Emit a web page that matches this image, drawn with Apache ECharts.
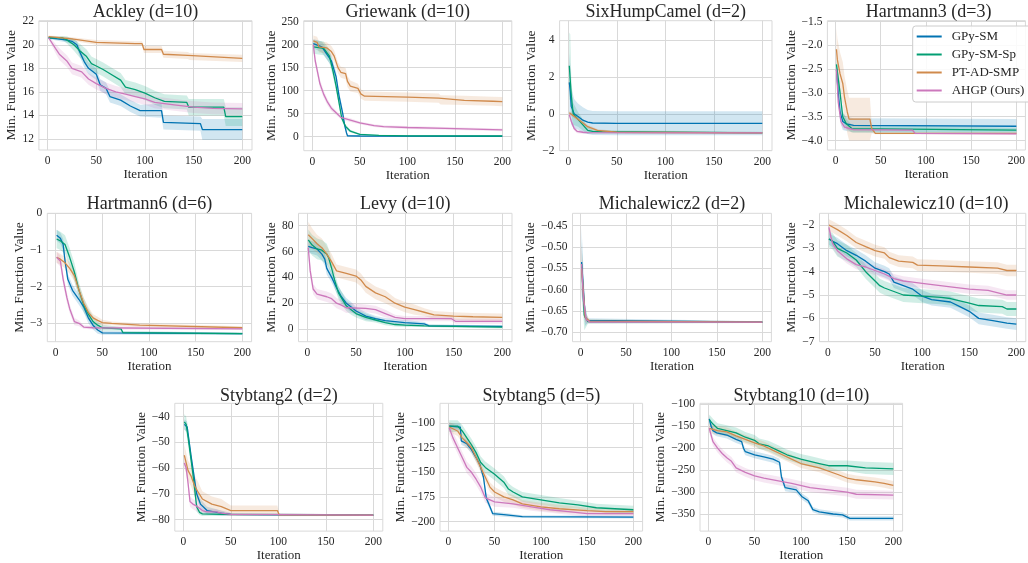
<!DOCTYPE html>
<html>
<head>
<meta charset="utf-8">
<script src="https://cdn.jsdelivr.net/npm/echarts@6/dist/echarts.min.js"></script>
<style>
  html, body { margin: 0; padding: 0; background: #ffffff; }
  #chart { width: 1028px; height: 563px; }
</style>
</head>
<body>
<div id="chart"></div>
<script>
// ---- Benchmark results: mean best value per iteration, each point is [iteration, mean, half-width of shaded band] ----
const methods = ['GPy-SM', 'GPy-SM-Sp', 'PT-AD-SMP', 'AHGP (Ours)'];
const iterTicks = [0, 50, 100, 150, 200];

const panelTitles = [
  'Ackley (d=10)', 'Griewank (d=10)', 'SixHumpCamel (d=2)', 'Hartmann3 (d=3)',
  'Hartmann6 (d=6)', 'Levy (d=10)', 'Michalewicz2 (d=2)', 'Michalewicz10 (d=10)',
  'Stybtang2 (d=2)', 'Stybtang5 (d=5)', 'Stybtang10 (d=10)'
];

const yTickValues = [
  [12, 14, 16, 18, 20, 22],
  [0, 50, 100, 150, 200, 250],
  [-2, 0, 2, 4],
  [-4.0, -3.5, -3.0, -2.5, -2.0, -1.5],
  [-3, -2, -1, 0],
  [0, 20, 40, 60, 80],
  [-0.70, -0.65, -0.60, -0.55, -0.50, -0.45],
  [-7, -6, -5, -4, -3, -2],
  [-80, -70, -60, -50, -40],
  [-200, -175, -150, -125, -100],
  [-350, -300, -250, -200, -150, -100]
];
const yLimits = [
  [11.06, 22.05], [-30.4, 252], [-2, 5.04], [-4.2, -1.48],
  [-3.5, 0], [-9.8, 89.6], [-0.722, -0.421], [-7, -1.5],
  [-84.5, -34.8], [-209.7, -79.9], [-389, -97.7]
];
const yDecimals = [0, 0, 0, 1, 0, 0, 2, 0, 0, 0, 0];

// Ackley
const ackleySM = [[1,20.6,.1],[10,20.5,.15],[20,20.4,.2],[25,20.3,.25],[30,20.0,.3],[33,19.4,.4],[38,18.5,.5],[42,18.0,.5],[50,17.5,.5],[54,16.6,.5],[60,16.3,.5],[64,15.6,.5],[75,15.3,.5],[85,14.8,.5],[95,14.4,.5],[117,14.4,.6],[119,13.4,.6],[157,13.3,.6],[159,12.8,.9],[200,12.8,.9]];
const ackleySp = [[1,20.6,.1],[15,20.6,.15],[20,20.4,.3],[27,20.0,.5],[33,19.5,.6],[40,19.0,.6],[45,18.4,.6],[50,18.2,.6],[57,17.9,.6],[65,17.5,.6],[75,17.0,.6],[80,16.4,.6],[90,16.2,.6],[100,15.9,.6],[110,15.5,.6],[120,15.2,.6],[143,15.1,.6],[145,14.7,.7],[181,14.7,.7],[183,13.9,.8],[200,13.9,.8]];
const ackleyPT = [[1,20.7,.1],[25,20.5,.15],[50,20.2,.2],[90,20.1,.2],[97,20.1,.2],[99,19.6,.3],[117,19.6,.3],[119,19.2,.3],[144,19.1,.3],[146,19.0,.3],[200,18.85,.3]];
const ackleyAHGP = [[1,20.6,.15],[8,19.7,.4],[12,19.2,.5],[20,18.6,.5],[25,18.0,.5],[35,17.7,.5],[42,17.1,.5],[50,16.7,.5],[60,16.3,.5],[70,16.0,.5],[80,15.8,.5],[90,15.6,.5],[100,15.4,.5],[110,15.1,.5],[130,14.9,.5],[150,14.7,.5],[170,14.6,.5],[200,14.55,.5]];

// Griewank
const griewankSM = [[1,202,10],[10,195,12],[15,180,12],[20,165,12],[25,130,12],[28,90,10],[32,50,8],[34,25,6],[36,8,3],[37,2,2],[50,1.5,1],[200,1,.5]];
const griewankSp = [[1,195,15],[12,192,15],[18,175,15],[22,140,12],[25,110,10],[28,75,8],[31,40,6],[35,22,5],[40,12,3],[50,5,2],[70,3,1],[100,2,1],[200,1.5,.5]];
const griewankPT = [[1,208,12],[5,205,12],[7,195,12],[15,193,12],[20,185,12],[23,175,12],[27,150,12],[30,140,12],[35,137,12],[37,120,12],[40,110,12],[48,105,10],[51,93,10],[55,88,10],[100,86,10],[133,84,10],[135,80,10],[160,79,10],[190,77,10],[200,76,10]];
const griewankAHGP = [[1,200,8],[3,165,10],[5,145,10],[8,115,10],[12,92,8],[16,75,7],[20,62,6],[25,52,5],[30,42,4],[40,36,4],[50,30,3],[65,24,3],[75,22,3],[100,20,3],[140,18,3],[180,16,3],[200,15,3]];

// SixHumpCamel
const camelSM = [[1,1.7,1.6],[2,1.2,1.4],[3,0.4,1.0],[6,0.0,0.8],[10,-0.15,0.7],[15,-0.35,0.7],[20,-0.45,0.65],[25,-0.5,0.65],[50,-0.52,0.65],[200,-0.52,0.65]];
const camelSp = [[1,2.6,1.8],[2,2.5,1.8],[3,1.0,1.0],[5,0.0,0.6],[10,-0.3,0.4],[15,-0.6,0.3],[20,-0.9,0.2],[25,-0.95,0.1],[35,-0.97,0.08],[200,-1.03,0.05]];
const camelPT = [[1,0.05,0.1],[5,-0.1,0.1],[10,-0.3,0.1],[20,-0.7,0.1],[30,-0.9,0.08],[50,-1.0,0.05],[200,-1.03,0.04]];
const camelAHGP = [[1,-0.05,0.1],[3,-0.4,0.15],[6,-0.8,0.12],[9,-0.95,0.1],[15,-1.0,0.08],[20,-1.02,0.05],[200,-1.03,0.04]];

// Hartmann3
const hart3SM = [[1,-2.5,0.2],[3,-3.0,0.2],[5,-3.4,0.2],[8,-3.6,0.18],[12,-3.65,0.15],[20,-3.68,0.15],[200,-3.7,0.15]];
const hart3Sp = [[1,-2.4,0.15],[3,-2.7,0.15],[5,-3.0,0.15],[8,-3.5,0.12],[12,-3.65,0.1],[18,-3.75,0.08],[200,-3.78,0.05]];
const hart3PT = [[1,-2.08,0.45],[2,-2.3,0.45],[5,-2.6,0.45],[8,-2.8,0.45],[10,-3.1,0.45],[13,-3.4,0.45],[15,-3.55,0.45],[38,-3.55,0.45],[40,-3.75,0.1],[44,-3.85,0.02],[200,-3.85,0.02]];
const hart3AHGP = [[1,-2.5,0.1],[3,-3.2,0.1],[6,-3.6,0.08],[10,-3.72,0.05],[20,-3.77,0.03],[85,-3.78,0.03],[88,-3.85,0.02],[200,-3.86,0.02]];

// Hartmann6
const hart6SM = [[1,-0.6,0.15],[5,-0.68,0.15],[8,-0.85,0.15],[10,-1.3,0.15],[13,-1.8,0.15],[18,-2.1,0.15],[25,-2.35,0.15],[30,-2.55,0.15],[35,-2.85,0.15],[40,-3.05,0.12],[45,-3.18,0.1],[50,-3.26,0.05],[200,-3.28,0.03]];
const hart6Sp = [[1,-0.7,0.25],[5,-0.75,0.25],[10,-0.85,0.25],[15,-1.2,0.25],[20,-1.6,0.25],[25,-2.1,0.2],[30,-2.5,0.2],[35,-2.75,0.15],[40,-2.95,0.15],[45,-3.05,0.1],[50,-3.12,0.08],[70,-3.15,0.05],[72,-3.25,0.03],[200,-3.28,0.03]];
const hart6PT = [[1,-1.2,0.15],[5,-1.25,0.15],[10,-1.35,0.15],[15,-1.5,0.15],[20,-1.7,0.15],[25,-2.1,0.15],[30,-2.45,0.15],[35,-2.7,0.15],[40,-2.85,0.1],[45,-2.92,0.1],[50,-2.98,0.08],[60,-3.0,0.05],[90,-3.05,0.05],[200,-3.12,0.04]];
const hart6AHGP = [[1,-1.2,0.15],[5,-1.3,0.15],[8,-1.8,0.15],[12,-2.3,0.15],[15,-2.6,0.12],[20,-2.95,0.1],[25,-3.0,0.08],[30,-3.1,0.05],[40,-3.12,0.05],[200,-3.15,0.03]];

// Levy
const levySM = [[1,64,5],[5,63,5],[10,62,5],[15,58,5],[18,54,5],[20,47,5],[25,40,4],[30,32,4],[35,25,4],[40,20,4],[45,17,4],[50,14,3],[55,12,3],[60,10,3],[70,8,2],[80,6.5,2],[100,5,2],[120,4,1.5],[125,2.5,1],[200,2,1]];
const levySp = [[1,69,8],[5,65,8],[10,62,8],[15,61,8],[20,58,8],[22,55,7],[25,47,6],[28,38,6],[32,28,5],[36,23,5],[40,18,4],[45,15,4],[50,12,3],[60,9,3],[70,7,2],[80,5,2],[90,3.5,1.5],[100,3,1.5],[120,2.5,1],[200,1.5,1]];
const levyPT = [[1,73,10],[5,70,8],[10,66,7],[15,63,7],[20,58,6],[25,52,6],[30,45,5],[40,43,5],[50,41,5],[55,38,5],[60,33,5],[70,28,5],[80,25,5],[90,20,4],[100,17,4],[110,15,4],[120,13,3],[130,11,3],[150,10,3],[170,9.5,3],[200,9,3]];
const levyAHGP = [[1,63,5],[3,45,5],[6,31,4],[10,27,4],[20,25,4],[25,23.5,4],[30,20,4],[35,18.5,4],[40,16.5,4],[60,16,3],[70,15,3],[80,12,3],[90,9,2],[100,8,2],[148,8,2],[152,6,2],[200,6,2]];

// Michalewicz2
const mich2SM = [[1,-0.535,0.08],[3,-0.6,0.05],[5,-0.665,0.02],[8,-0.672,0.005],[200,-0.676,0.002]];
const mich2Sp = [[1,-0.54,0.06],[4,-0.66,0.035],[8,-0.675,0.005],[200,-0.676,0.002]];
const mich2PT = [[1,-0.55,0.05],[5,-0.665,0.01],[10,-0.674,0.004],[200,-0.676,0.002]];
const mich2AHGP = [[1,-0.54,0.05],[3,-0.62,0.04],[6,-0.67,0.01],[10,-0.676,0.003],[200,-0.676,0.002]];

// Michalewicz10
const mich10SM = [[1,-2.6,0.25],[5,-2.7,0.25],[10,-2.8,0.25],[20,-3.1,0.25],[30,-3.3,0.25],[40,-3.55,0.25],[50,-3.85,0.25],[60,-4.0,0.25],[65,-4.1,0.25],[70,-4.45,0.25],[80,-4.6,0.25],[90,-4.75,0.25],[100,-5.05,0.25],[110,-5.2,0.25],[130,-5.3,0.25],[140,-5.5,0.25],[150,-5.7,0.25],[160,-6.0,0.25],[175,-6.1,0.25],[190,-6.2,0.25],[200,-6.25,0.25]];
const mich10Sp = [[1,-2.6,0.35],[5,-2.7,0.35],[10,-3.0,0.35],[20,-3.2,0.35],[30,-3.5,0.3],[40,-4.0,0.3],[50,-4.4,0.3],[55,-4.6,0.3],[60,-4.7,0.3],[70,-4.85,0.3],[80,-5.0,0.3],[100,-5.05,0.3],[120,-5.1,0.3],[130,-5.15,0.3],[150,-5.35,0.3],[160,-5.45,0.3],[185,-5.5,0.3],[190,-5.6,0.3],[200,-5.6,0.3]];
const mich10PT = [[1,-2.0,0.25],[10,-2.2,0.25],[20,-2.45,0.25],[30,-2.75,0.25],[40,-2.93,0.25],[50,-3.1,0.25],[60,-3.2,0.25],[65,-3.4,0.25],[75,-3.55,0.25],[90,-3.6,0.25],[95,-3.72,0.25],[120,-3.75,0.25],[150,-3.8,0.25],[180,-3.85,0.25],[190,-3.95,0.25],[200,-3.95,0.25]];
const mich10AHGP = [[1,-2.1,0.2],[3,-2.5,0.2],[5,-2.8,0.2],[10,-3.1,0.2],[20,-3.45,0.2],[30,-3.7,0.2],[40,-3.8,0.2],[50,-3.95,0.2],[60,-4.1,0.2],[70,-4.3,0.2],[80,-4.4,0.2],[90,-4.45,0.2],[100,-4.5,0.2],[130,-4.65,0.2],[150,-4.75,0.2],[170,-4.8,0.2],[190,-5.0,0.2],[200,-5.0,0.2]];

// Stybtang2
const styb2SM = [[1,-43,2],[4,-44,2],[8,-55,2],[10,-60,2],[14,-70,2],[18,-74,2],[25,-76.5,1.5],[40,-77.5,1],[50,-78,0.5],[200,-78.3,0.3]];
const styb2Sp = [[1,-42,3],[3,-43,3],[5,-48,3],[10,-62,3],[14,-75,2],[17,-77.2,1],[20,-77.8,0.8],[40,-78,0.5],[200,-78.3,0.3]];
const styb2PT = [[1,-55,4],[3,-58,4],[5,-61,4],[8,-63,4],[10,-65,4],[12,-67,4],[15,-69,4],[20,-72,3],[30,-74,3],[40,-75,3],[50,-76.5,2],[99,-76.5,2],[101,-78.2,0.5],[200,-78.3,0.3]];
const styb2AHGP = [[1,-58,2],[3,-60,2],[5,-66,2],[7,-73,2],[10,-74,2],[15,-75,2],[20,-76.5,1.5],[25,-77,1],[35,-77,1],[40,-77.5,0.8],[50,-78,0.5],[200,-78.3,0.3]];

// Stybtang5
const styb5SM = [[1,-103,3],[13,-104,3],[14,-118,4],[20,-121,4],[25,-127,4],[30,-135,4],[34,-142,4],[38,-155,4],[41,-176,4],[45,-185,3],[48,-192,2],[60,-193,2],[80,-195,1.5],[200,-195.5,1.5]];
const styb5Sp = [[1,-103,6],[10,-103,6],[15,-108,6],[20,-115,6],[25,-122,6],[30,-130,6],[35,-140,6],[40,-145,6],[50,-152,6],[60,-160,6],[65,-167,6],[70,-170,5],[80,-175,5],[100,-178,5],[120,-181,5],[140,-183,4],[160,-186,4],[180,-187,4],[200,-188,4]];
const styb5PT = [[1,-104,5],[10,-108,5],[15,-115,5],[20,-120,5],[25,-125,5],[30,-135,5],[35,-145,5],[40,-155,5],[45,-165,5],[50,-170,5],[60,-175,5],[70,-178,5],[80,-182,4],[100,-185,4],[120,-187,4],[150,-189,3],[170,-190,3],[200,-190,3]];
const styb5AHGP = [[1,-105,6],[5,-115,6],[10,-125,6],[15,-135,6],[20,-145,6],[25,-150,6],[30,-157,6],[35,-165,6],[40,-176,5],[50,-180,5],[70,-182,4],[90,-185,4],[110,-188,3],[130,-190,3],[150,-192,3],[200,-192,3]];

// Stybtang10
const styb10SM = [[1,-133,8],[3,-150,8],[5,-160,8],[9,-165,8],[20,-170,8],[30,-180,8],[36,-185,8],[38,-200,8],[40,-208,8],[50,-215,8],[60,-220,8],[70,-225,8],[77,-232,8],[79,-265,8],[83,-290,8],[95,-295,8],[101,-310,7],[108,-320,7],[113,-340,6],[120,-345,6],[135,-350,6],[145,-352,6],[153,-360,5],[200,-360,5]];
const styb10Sp = [[1,-135,12],[5,-145,12],[10,-155,12],[20,-160,12],[30,-165,12],[40,-175,12],[50,-182,12],[55,-190,12],[65,-195,12],[75,-205,12],[85,-215,12],[100,-225,12],[110,-230,12],[120,-235,12],[130,-240,12],[150,-240,12],[170,-245,14],[200,-247,14]];
const styb10PT = [[1,-155,10],[5,-157,10],[10,-160,10],[20,-163,10],[30,-172,10],[40,-180,10],[50,-188,10],[60,-195,10],[70,-205,10],[80,-215,10],[90,-225,10],[100,-235,10],[120,-245,10],[140,-260,10],[150,-268,10],[160,-272,10],[180,-277,10],[190,-280,10],[200,-285,10]];
const styb10AHGP = [[1,-155,10],[5,-185,10],[10,-200,10],[15,-212,10],[20,-222,10],[25,-230,10],[30,-245,10],[40,-255,10],[50,-263,10],[60,-268,10],[70,-272,10],[90,-280,10],[110,-290,10],[130,-295,10],[150,-300,10],[160,-305,10],[200,-307,10]];

const panelCurves = [
  [ackleySM, ackleySp, ackleyPT, ackleyAHGP],
  [griewankSM, griewankSp, griewankPT, griewankAHGP],
  [camelSM, camelSp, camelPT, camelAHGP],
  [hart3SM, hart3Sp, hart3PT, hart3AHGP],
  [hart6SM, hart6Sp, hart6PT, hart6AHGP],
  [levySM, levySp, levyPT, levyAHGP],
  [mich2SM, mich2Sp, mich2PT, mich2AHGP],
  [mich10SM, mich10Sp, mich10PT, mich10AHGP],
  [styb2SM, styb2Sp, styb2PT, styb2AHGP],
  [styb5SM, styb5Sp, styb5PT, styb5AHGP],
  [styb10SM, styb10Sp, styb10PT, styb10AHGP]
];

// ---- Styling and layout ----
const FONT = '"Liberation Serif", "DejaVu Serif", serif';
const TEXT = '#262626';
const GRIDLINE = '#d9d9d9';
const colors = ['#0173b2', '#029e73', '#d08a4c', '#cc78bc'];
const BAND_OPACITY = 0.18;

// plot boxes: left, top, width, height, y-name gap
const frames = [
  [38.9, 20.7, 213.1, 129.3, 20.5],
  [303.8, 20.7, 208, 130, 22],
  [559.6, 20.7, 212.4, 130, 20],
  [827.4, 20.7, 202.4, 129.3, 27.6],
  [47.3, 213.3, 204.3, 128.4, 20.8],
  [298.5, 213.3, 213.5, 128.4, 18.7],
  [572.5, 213.3, 198.9, 128.4, 32.7],
  [819.5, 213.3, 213.3, 128.4, 19.7],
  [174.8, 403.3, 208, 128.7, 23.3],
  [440, 403.3, 202.6, 129, 28.5],
  [700, 403.3, 202.6, 129, 30.2]
];
const titleY = [12.7, 12.7, 12.7, 12.7, 204, 204, 204, 204, 396, 396, 396];

function fmt(dec) {
  return function (v) {
    const s = Math.abs(v).toFixed(dec);
    return (v < -1e-12 ? '\u2212' : '') + s;
  };
}

const grids = [], xAxes = [], yAxes = [], series = [], graphics = [];

frames.forEach(function (f, p) {
  grids.push({
    left: f[0], top: f[1], width: f[2], height: f[3],
    show: true, borderColor: GRIDLINE, borderWidth: 1, backgroundColor: 'transparent'
  });
  xAxes.push({
    type: 'value', gridIndex: p, min: -9, max: 210,
    axisLine: { show: false },
    axisTick: { show: false, customValues: iterTicks },
    axisLabel: { customValues: iterTicks, color: TEXT, fontSize: 11.5, fontFamily: FONT, margin: 5 },
    splitLine: { show: true, lineStyle: { color: GRIDLINE, width: 1 } },
    name: 'Iteration', nameLocation: 'middle', nameGap: 17,
    nameTextStyle: { fontSize: 13, fontFamily: FONT, color: TEXT }
  });
  yAxes.push({
    type: 'value', gridIndex: p, min: yLimits[p][0], max: yLimits[p][1],
    axisLine: { show: false },
    axisTick: { show: false, customValues: yTickValues[p] },
    axisLabel: { customValues: yTickValues[p], color: TEXT, fontSize: 11.5, fontFamily: FONT, margin: 5, formatter: fmt(yDecimals[p]) },
    splitLine: { show: true, lineStyle: { color: GRIDLINE, width: 1 } },
    name: 'Min. Function Value', nameLocation: 'middle', nameRotate: 90, nameGap: f[4],
    nameTextStyle: { fontSize: 13.4, fontFamily: FONT, color: TEXT }
  });
  graphics.push({
    type: 'text', x: f[0] + f[2] / 2, y: titleY[p], z: 10,
    style: { text: panelTitles[p], font: '18px ' + FONT, fill: TEXT, textAlign: 'center', textVerticalAlign: 'middle' }
  });

  const curves = panelCurves[p];
  // shaded bands first, so the mean lines sit on top
  curves.forEach(function (pts, m) {
    series.push({
      type: 'custom', xAxisIndex: p, yAxisIndex: p, silent: true, clip: true, z: 1,
      data: pts.map(function (d) { return [d[0], d[1]]; }),
      renderItem: function (params, api) {
        if (params.dataIndex !== 0) return null;
        const upper = pts.map(function (d) { return api.coord([d[0], d[1] + d[2]]); });
        const lower = pts.map(function (d) { return api.coord([d[0], d[1] - d[2]]); }).reverse();
        return {
          type: 'polygon',
          shape: { points: upper.concat(lower) },
          style: { fill: colors[m], opacity: BAND_OPACITY },
          clipPath: { type: 'rect', shape: { x: params.coordSys.x, y: params.coordSys.y, width: params.coordSys.width, height: params.coordSys.height } }
        };
      }
    });
  });
  curves.forEach(function (pts, m) {
    series.push({
      type: 'line', name: methods[m], xAxisIndex: p, yAxisIndex: p, z: 2,
      data: pts.map(function (d) { return [d[0], d[1]]; }),
      symbol: 'none', showSymbol: false,
      color: colors[m],
      lineStyle: { color: colors[m], width: 1.3 },
      itemStyle: { color: colors[m] }
    });
  });
});

const chart = echarts.init(document.getElementById('chart'), null, { renderer: 'canvas' });
chart.setOption({
  animation: false,
  backgroundColor: '#ffffff',
  grid: grids,
  xAxis: xAxes,
  yAxis: yAxes,
  series: series,
  graphic: graphics,
  legend: {
    data: methods, orient: 'vertical', left: 912.7, top: 26,
    icon: 'rect', itemWidth: 25, itemHeight: 2, itemGap: 5,
    padding: [4, 10, 5, 4], borderColor: '#cccccc', borderWidth: 1, borderRadius: 3,
    backgroundColor: 'rgba(255,255,255,0.85)', selectedMode: false,
    textStyle: { fontFamily: FONT, fontSize: 13, color: TEXT, padding: [0, 0, 0, 5] }
  }
});
</script>
</body>
</html>
